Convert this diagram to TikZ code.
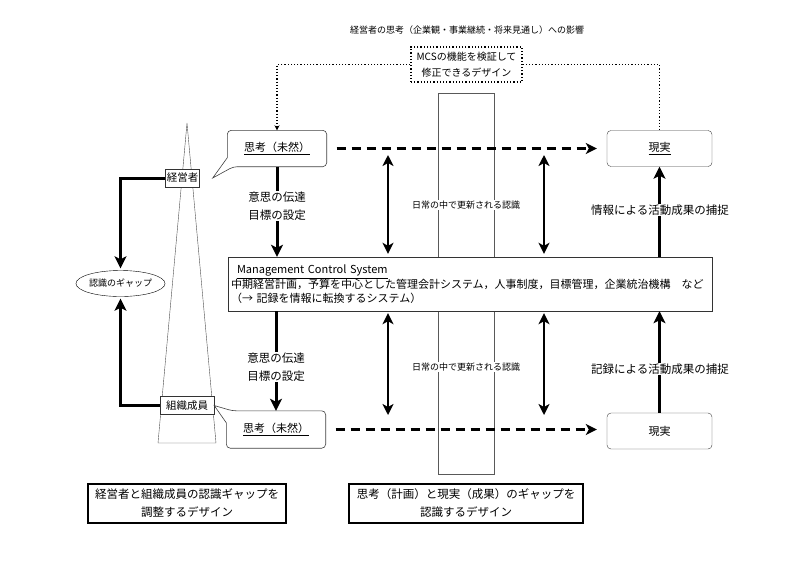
\documentclass[tikz,border=0pt]{standalone}
\usepackage{fontspec}
\setmainfont{Noto Sans CJK JP}
\usetikzlibrary{positioning, arrows.meta, calc, shapes.geometric}

\begin{document}
\begin{tikzpicture} [x=1pt, y=-1pt,
        thinkbox/.style = {minimum width=99pt, minimum height=36pt, inner sep=0pt,
            font=\fontsize{11}{13}\selectfont},
        realbox/.style = {draw=black!75, rounded corners=4pt, minimum width=105pt,
            minimum height=36pt, inner sep=0pt, font=\fontsize{11}{13}\selectfont},
        outline/.style = {draw=black!75, line width=0.6pt},
        tagbox/.style = {draw=black!80, fill=white, inner sep=1pt, minimum height=18pt,
            font=\fontsize{10.5}{12}\selectfont},
        designbox/.style = {draw, line width=2pt, align=center, inner sep=0pt,
            font=\fontsize{11.5}{18}\selectfont},
        note/.style = {fill=white, align=center, inner sep=1pt,
            font=\fontsize{11.5}{18}\selectfont},
        daily/.style = {fill=white, inner sep=1pt, font=\fontsize{9}{11}\selectfont},
        bigarrow/.style = {line width=3pt, -{Stealth[length=12pt,width=12pt,inset=3pt]}},
        dblarrow/.style = {line width=2.6pt,
            {Stealth[length=11pt,width=11pt,inset=3pt]}-{Stealth[length=11pt,width=11pt,inset=3pt]}},
        plan/.style = {line width=3pt, dash pattern=on 9pt off 6pt,
            -{Stealth[length=11pt,width=11pt,inset=3pt]}, shorten <=10pt, shorten >=10pt},
        feedback/.style = {dotted, line width=1.2pt}]

    \useasboundingbox (0,0) rectangle (800,566);

    % background shapes
    \node (strip) [draw=black!65, minimum width=56pt, minimum height=381pt, inner sep=0pt]
        at (466,283.5) {};
    \draw [black!70] (187,123) -- (158,443) -- (216,443) -- cycle;

    \node (title) [font=\fontsize{9}{11}\selectfont] at (467,30)
        {経営者の思考（企業観・事業継続・将来見通し）への影響};
    \node (verify) [draw, feedback, align=center, minimum width=111pt, minimum height=35pt,
        inner sep=0pt, font=\fontsize{10}{16}\selectfont] at (466.5,64.5)
        {MCSの機能を検証して\\修正できるデザイン};

    \node (thinkA) [thinkbox] at (277,148.5) {\underline{思考（未然）}};
    \node (realA) [realbox] at (659.5,148.5) {\underline{現実}};
    \node (thinkB) [thinkbox, minimum height=37pt] at (276,429.5) {\underline{思考（未然）}};
    \node (realB) [realbox] at (659.5,431) {現実};

    \node (mgr) [tagbox, minimum width=34pt] at (182.5,178) {経営者};
    \node (members) [tagbox, minimum width=54pt] at (187,405.5) {組織成員};
    \node (gap) [ellipse, draw, minimum width=87pt, minimum height=26pt, inner sep=0pt,
        font=\fontsize{9}{11}\selectfont] at (120.5,283.5) {認識のギャップ};

    \node (mcs) [draw=black!80, fill=white, minimum width=484pt, minimum height=54pt,
        text width=478pt, align=left, inner sep=2pt, font=\fontsize{11}{13.5}\selectfont]
        at (470,284) {\hspace{6pt}\underline{Management Control System}\\
        中期経営計画，予算を中心とした管理会計システム，人事制度，目標管理，企業統治機構　など\\
        （→ 記録を情報に転換するシステム）};

    \node (designA) [designbox, minimum width=198pt, minimum height=39pt] at (187,503.5)
        {経営者と組織成員の認識ギャップを\\調整するデザイン};
    \node (designB) [designbox, minimum width=234pt, minimum height=39pt] at (466,503.5)
        {思考（計画）と現実（成果）のギャップを\\認識するデザイン};

    % speech bubbles
    \coordinate (tipA) at ($(mgr.east)+(13,0)$);
    \draw [outline] ($(thinkA.south west)+(0,-9)$) [rounded corners=4pt] -- (thinkA.north west)
        -- (thinkA.north east) -- (thinkA.south east) -- ($(thinkA.south west)+(6,0)$)
        [sharp corners] -- (tipA) -- cycle;
    \coordinate (tipB) at (members.east);
    \draw [outline] ($(thinkB.north west)+(0,12)$) [rounded corners=4pt] -- (thinkB.south west)
        -- (thinkB.south east) -- (thinkB.north east) -- ($(thinkB.north west)+(6,0)$)
        [sharp corners] -- (tipB) -- cycle;

    % connectors
    \draw [feedback, -{Stealth[length=5pt,width=5pt]}] (verify.west) -| (thinkA.north);
    \draw [feedback] (verify.east) -| (realA.north);

    \draw [bigarrow, shorten >=2pt] (mgr.west) -| (gap.north);
    \draw [bigarrow, shorten >=2pt] (members.west) -| (gap.south);

    \draw [bigarrow] (thinkA.south) -- (thinkA.south |- mcs.north);
    \draw [bigarrow] (mcs.south -| thinkB.north) -- (thinkB.north);
    \draw [bigarrow] (realA.south |- mcs.north) -- (realA.south);
    \draw [bigarrow] (realB.north) -- (realB.north |- mcs.south);

    \draw [plan] (thinkA.east) -- (realA.west);
    \draw [plan] (thinkB.east) -- (thinkB.east -| realB.west);

    \coordinate (upA) at (388,155); \coordinate (upB) at (544,155);
    \coordinate (lowA) at (388,415); \coordinate (lowB) at (544,415);
    \draw [dblarrow, shorten >=3pt] (upA) -- (upA |- mcs.north);
    \draw [dblarrow, shorten >=3pt] (upB) -- (upB |- mcs.north);
    \draw [dblarrow, shorten <=2pt] (lowA |- mcs.south) -- (lowA);
    \draw [dblarrow, shorten <=2pt] (lowB |- mcs.south) -- (lowB);

    % labels
    \node (sendA) [note] at (277,206) {意思の伝達\\目標の設定};
    \node (sendB) [note] at (276,367) {意思の伝達\\目標の設定};
    \node (infoA) [note] at (660,210) {情報による活動成果の捕捉};
    \node (recB) [note] at (660,369) {記録による活動成果の捕捉};
    \node (dailyA) [daily] at (466,205) {日常の中で更新される認識};
    \node (dailyB) [daily] at (466,367) {日常の中で更新される認識};
\end{tikzpicture}
\end{document}
